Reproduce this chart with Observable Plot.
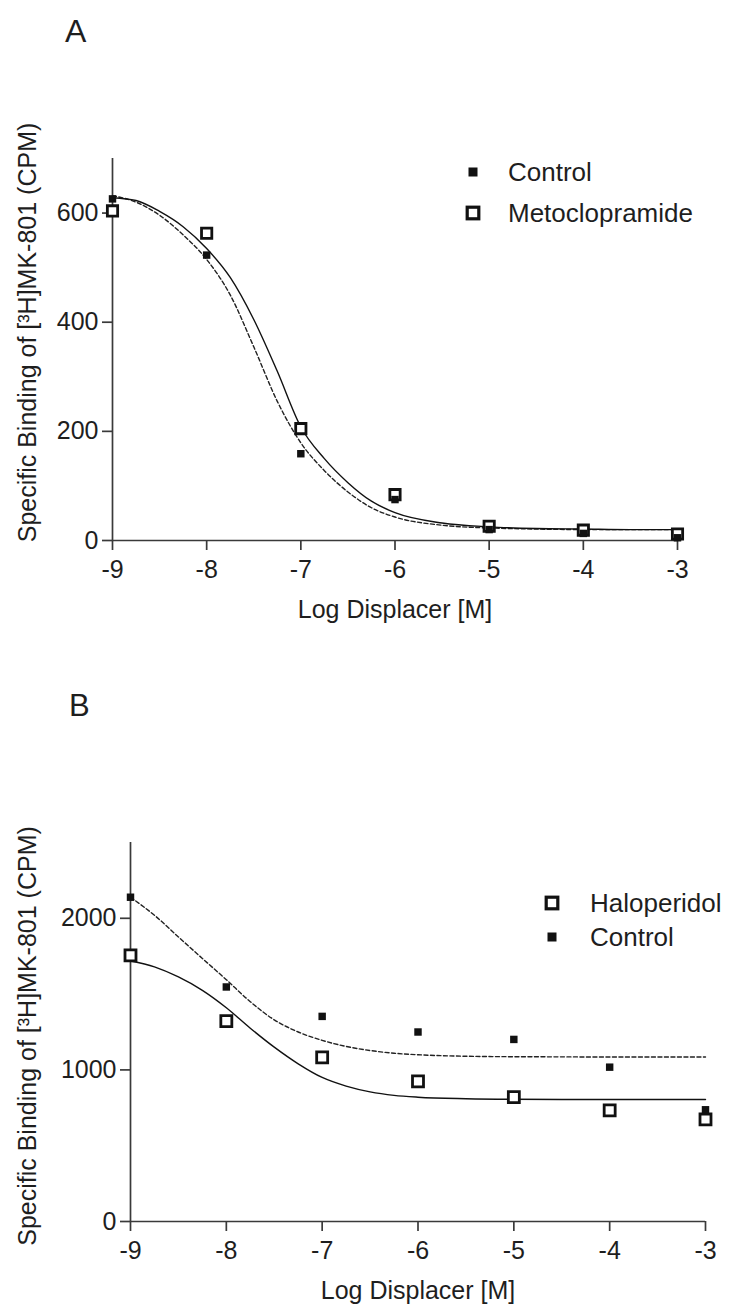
<!DOCTYPE html>
<html>
<head>
<meta charset="utf-8">
<script src="https://cdn.jsdelivr.net/npm/d3@7"></script>
<script src="https://cdn.jsdelivr.net/npm/@observablehq/plot@0.6"></script>
<style>
  html, body { margin: 0; padding: 0; background: #fff; }
  #wrap { position: relative; width: 729px; height: 1308px; overflow: hidden; font-family: "Liberation Sans", Arial, sans-serif; }
  .panel { position: absolute; left: 0; }
</style>
</head>
<body>
<div id="wrap">
  <div id="panelA" class="panel" style="top:0px"></div>
  <div id="panelB" class="panel" style="top:640px"></div>
</div>
<script>
// ---------- data ----------
const logDose = [-9, -8, -7, -6, -5, -4, -3];

// Panel A
const controlA = [626, 523, 159, 75, 20, 13, 5];
const metoclopramideA = [604, 563, 205, 84, 26, 19, 12];
const fitX = [-9, -8.75, -8.5, -8.25, -8, -7.75, -7.5, -7.25, -7, -6.75, -6.5, -6.25, -6, -5.5, -5, -4.5, -4, -3.5, -3];
const fitMetoclopramideA = [628, 623, 603, 575, 535, 482, 405, 310, 208, 150, 106, 72, 51, 32, 25, 22, 21, 20, 20];
const fitControlA = [632, 620, 596, 560, 515, 450, 355, 255, 179, 128, 89, 60, 43, 28, 23, 21, 20, 20, 20];
const yTicksA = [0, 200, 400, 600];

// Panel B
const haloperidolB = [1756, 1322, 1082, 924, 820, 733, 673];
const controlB = [2139, 1547, 1353, 1250, 1201, 1018, 737];
const fitControlB = [2139, 2020, 1877, 1735, 1595, 1450, 1330, 1250, 1195, 1155, 1128, 1110, 1100, 1090, 1087, 1086, 1085, 1085, 1085];
const fitHaloperidolB = [1718, 1680, 1613, 1525, 1410, 1275, 1150, 1040, 950, 893, 855, 832, 820, 810, 806, 805, 805, 805, 805];
const yTicksB = [0, 1000, 2000];

// Text
const xTitle = "Log Displacer [M]";
const yTitle = "Specific Binding of [³H]MK-801 (CPM)";
const panelLetters = ["A", "B"];
const legendA = ["Control", "Metoclopramide"];
const legendB = ["Haloperidol", "Control"];

// ---------- helpers ----------
const FONT = "Liberation Sans, Arial, Helvetica, sans-serif";
const INK = "#1e1e1e";
const AX = "#3a3a3a";
const toPts = (xs, ys) => xs.map((x, i) => ({x, y: ys[i]}));

function panel({height, mt, mb, ml, mr, yDomain, yTicks, solidFit, dashedFit, openPts, filledPts, yLabelDy, openR}) {
  return Plot.plot({
    width: 729,
    height,
    marginTop: mt, marginBottom: mb, marginLeft: ml, marginRight: mr,
    style: {fontFamily: FONT, fontSize: "25px", color: INK, background: "transparent", overflow: "visible"},
    x: {domain: [-9, -3]},
    y: {domain: yDomain},
    marks: [
      Plot.ruleY([0], {stroke: AX, strokeWidth: 1.7}),
      Plot.ruleX([-9], {stroke: AX, strokeWidth: 1.7}),
      Plot.axisX({ticks: logDose, tickSize: 10, tickPadding: 10, tickFormat: d => String(d), label: null, stroke: AX, strokeWidth: 1.7, fill: INK}),
      Plot.axisY({ticks: yTicks, tickSize: 10, tickPadding: 4, tickFormat: d => String(d), label: null, stroke: AX, strokeWidth: 1.7, fill: INK}),
      Plot.line(toPts(fitX, dashedFit), {x: "x", y: "y", stroke: "#222", strokeWidth: 1.4, strokeDasharray: "4,2.5", curve: "monotone-x"}),
      Plot.line(toPts(fitX, solidFit), {x: "x", y: "y", stroke: "#111", strokeWidth: 1.4, curve: "monotone-x"}),
      Plot.dot(openPts, {x: "x", y: "y", symbol: "square", r: openR, fill: "white", stroke: "#111", strokeWidth: 2.8}),
      Plot.dot(filledPts, {x: "x", y: "y", symbol: "square", r: 4.2, fill: "#111", stroke: "none"}),
      Plot.text([xTitle], {text: d => d, frameAnchor: "bottom", lineAnchor: "middle", dy: 69, fontSize: 25, fill: INK}),
      Plot.text([yTitle], {text: d => d, frameAnchor: "left", rotate: -90, textAnchor: "middle", lineAnchor: "middle", dx: 27 - ml, dy: yLabelDy, fontSize: 25, fill: INK})
    ]
  });
}

// ---------- panel A ----------
document.getElementById("panelA").append(panel({
  height: 640, mt: 158, mb: 100, ml: 112, mr: 52,
  yDomain: [0, 700], yTicks: yTicksA,
  solidFit: fitMetoclopramideA, dashedFit: fitControlA,
  openPts: toPts(logDose, metoclopramideA),
  filledPts: toPts(logDose, controlA),
  yLabelDy: -17, openR: 5.8
}));

// ---------- panel B ----------
document.getElementById("panelB").append(panel({
  height: 668, mt: 202, mb: 87, ml: 130, mr: 24,
  yDomain: [0, 2500], yTicks: yTicksB,
  solidFit: fitHaloperidolB, dashedFit: fitControlB,
  openPts: toPts(logDose, haloperidolB),
  filledPts: toPts(logDose, controlB),
  yLabelDy: 4, openR: 6.2
}));

// ---------- overlay: panel letters + legends ----------
const ov = d3.select("#wrap").append("svg")
  .attr("width", 729).attr("height", 1308)
  .style("position", "absolute").style("left", 0).style("top", 0)
  .style("pointer-events", "none")
  .attr("font-family", FONT);

ov.append("text").attr("x", 65).attr("y", 42).attr("font-size", 32).attr("fill", INK).text(panelLetters[0]);
ov.append("text").attr("x", 69).attr("y", 716).attr("font-size", 31).attr("fill", INK).text(panelLetters[1]);

function legendRow(cx, cy, textX, label, open) {
  if (open) {
    ov.append("rect").attr("x", cx - 5.8).attr("y", cy - 5.8).attr("width", 11.6).attr("height", 11.6)
      .attr("fill", "white").attr("stroke", "#111").attr("stroke-width", 3.2);
  } else {
    ov.append("rect").attr("x", cx - 4.5).attr("y", cy - 4.5).attr("width", 9).attr("height", 9).attr("fill", "#111");
  }
  ov.append("text").attr("x", textX).attr("y", cy + 9.3).attr("font-size", 26).attr("fill", INK).text(label);
}
legendRow(473, 172, 508, legendA[0], false);
legendRow(473, 213, 508, legendA[1], true);
legendRow(552, 903, 590, legendB[0], true);
legendRow(552, 937, 590, legendB[1], false);
</script>
</body>
</html>
